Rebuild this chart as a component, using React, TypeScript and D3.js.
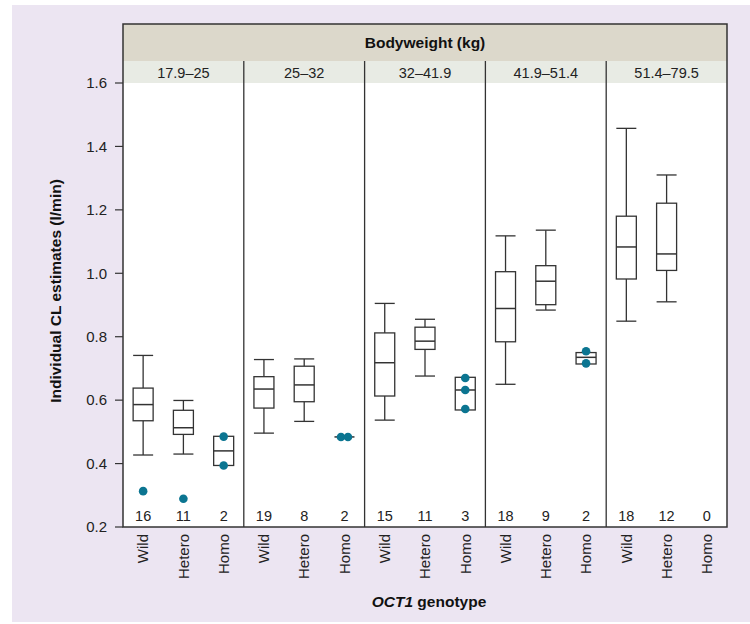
import React from 'react'
import * as d3 from 'd3'

const weightBands = ['17.9–25', '25–32', '32–41.9', '41.9–51.4', '51.4–79.5']
const genotypes = ['Wild', 'Hetero', 'Homo']
const counts = [
  [16, 11, 2],
  [19, 8, 2],
  [15, 11, 3],
  [18, 9, 2],
  [18, 12, 0]
]
// box stats per band, per genotype (null = no data)
const whiskerLow = [
  [0.427, 0.43, null],
  [0.496, 0.533, null],
  [0.537, 0.676, null],
  [0.65, 0.884, null],
  [0.849, 0.91, null]
]
const q1 = [
  [0.535, 0.492, 0.394],
  [0.575, 0.595, 0.484],
  [0.613, 0.76, 0.569],
  [0.784, 0.901, 0.714],
  [0.982, 1.009, null]
]
const medians = [
  [0.586, 0.513, 0.44],
  [0.635, 0.648, 0.484],
  [0.718, 0.786, 0.632],
  [0.889, 0.975, 0.735],
  [1.083, 1.061, null]
]
const q3 = [
  [0.638, 0.568, 0.486],
  [0.674, 0.707, 0.484],
  [0.812, 0.83, 0.672],
  [1.005, 1.024, 0.75],
  [1.18, 1.221, null]
]
const whiskerHigh = [
  [0.741, 0.599, null],
  [0.728, 0.73, null],
  [0.905, 0.855, null],
  [1.118, 1.136, null],
  [1.457, 1.31, null]
]
// individual points (homozygous values and outliers)
const points = [
  [[0.313], [0.289], [0.485, 0.394]],
  [[], [], [0.484, 0.484]],
  [[], [], [0.67, 0.632, 0.572]],
  [[], [], [0.754, 0.716]],
  [[], [], []]
]
const yTicks = [0.2, 0.4, 0.6, 0.8, 1.0, 1.2, 1.4, 1.6]

function App() {
  const left = 123
  const right = 727
  const frameTop = 24
  const stripTop = 61
  const plotTop = 83
  const bottom = 527
  const font = '"Liberation Sans", Arial, sans-serif'
  const dotColor = '#0b7591'
  const lineColor = '#333'

  const y = d3.scaleLinear().domain([0.2, 1.6]).range([bottom, plotTop])
  const panelScale = d3.scaleBand().domain(weightBands).range([left, right])
  const pw = panelScale.bandwidth()
  const x = d3.scaleBand().domain(genotypes).range([0, pw])
  const boxW = 20

  return (
    <svg width={750} height={624} style={{ position: 'absolute', left: 0, top: 0 }} fontFamily={font}>
      <rect x={12} y={5} width={738} height={617} fill="#ece5f2" />
      <rect x={left} y={frameTop} width={right - left} height={bottom - frameTop} fill="#fff" />
      <rect x={left} y={frameTop} width={right - left} height={stripTop - frameTop} fill="#dcd8cb" />
      <rect x={left} y={stripTop} width={right - left} height={plotTop - stripTop} fill="#e8ebe4" />
      <text x={(left + right) / 2} y={48} textAnchor="middle" fontSize={15.5} fontWeight="bold" fill="#111">
        Bodyweight (kg)
      </text>

      {yTicks.map(t => (
        <g key={t}>
          <line x1={115} x2={left} y1={y(t)} y2={y(t)} stroke={lineColor} strokeWidth={1.2} />
          <text x={107} y={y(t)} dy="0.35em" textAnchor="end" fontSize={15} fill="#222">
            {d3.format('.1f')(t)}
          </text>
        </g>
      ))}

      {weightBands.map((band, p) => {
        const px = panelScale(band) as number
        return (
          <g key={band}>
            <text x={px + pw / 2} y={78} textAnchor="middle" fontSize={14.5} fill="#222">
              {band}
            </text>
            {p > 0 && (
              <line x1={px} x2={px} y1={stripTop} y2={bottom} stroke={lineColor} strokeWidth={1.3} />
            )}
            {genotypes.map((g, i) => {
              const cx = px + (x(g) as number) + x.bandwidth() / 2
              const lo = whiskerLow[p][i]
              const hi = whiskerHigh[p][i]
              const a = q1[p][i]
              const b = q3[p][i]
              const m = medians[p][i]
              const pts = points[p][i]
              return (
                <g key={g}>
                  {hi !== null && b !== null && (
                    <>
                      <line x1={cx} x2={cx} y1={y(hi)} y2={y(b)} stroke={lineColor} strokeWidth={1.3} />
                      <line x1={cx - boxW / 2} x2={cx + boxW / 2} y1={y(hi)} y2={y(hi)} stroke={lineColor} strokeWidth={1.3} />
                    </>
                  )}
                  {lo !== null && a !== null && (
                    <>
                      <line x1={cx} x2={cx} y1={y(a)} y2={y(lo)} stroke={lineColor} strokeWidth={1.3} />
                      <line x1={cx - boxW / 2} x2={cx + boxW / 2} y1={y(lo)} y2={y(lo)} stroke={lineColor} strokeWidth={1.3} />
                    </>
                  )}
                  {a !== null && b !== null && (
                    <rect
                      x={cx - boxW / 2}
                      y={y(b)}
                      width={boxW}
                      height={y(a) - y(b)}
                      fill="#fff"
                      stroke={lineColor}
                      strokeWidth={1.3}
                    />
                  )}
                  {m !== null && (
                    <line x1={cx - boxW / 2} x2={cx + boxW / 2} y1={y(m)} y2={y(m)} stroke={lineColor} strokeWidth={1.5} />
                  )}
                  {pts.map((v, k) => {
                    const same = pts.filter(w => w === v).length
                    const idx = pts.slice(0, k).filter(w => w === v).length
                    const off = same > 1 ? (idx - (same - 1) / 2) * 7 : 0
                    return <circle key={k} cx={cx + off} cy={y(v)} r={4.3} fill={dotColor} />
                  })}
                  <text x={cx} y={521} textAnchor="middle" fontSize={14.5} fill="#222">
                    {counts[p][i]}
                  </text>
                  <text
                    x={cx}
                    y={534}
                    dy="0.35em"
                    textAnchor="end"
                    fontSize={15}
                    fill="#222"
                    transform={`rotate(-90, ${cx}, 534)`}
                  >
                    {g}
                  </text>
                </g>
              )
            })}
          </g>
        )
      })}

      <rect
        x={left}
        y={frameTop}
        width={right - left}
        height={bottom - frameTop}
        fill="none"
        stroke={lineColor}
        strokeWidth={1.5}
      />

      <text
        x={56}
        y={291}
        dy="0.35em"
        textAnchor="middle"
        fontSize={15.5}
        fontWeight="bold"
        fill="#111"
        transform="rotate(-90, 56, 291)"
      >
        Individual CL estimates (l/min)
      </text>
      <text x={429} y={607} textAnchor="middle" fontSize={15.5} fontWeight="bold" fill="#111">
        <tspan fontStyle="italic">OCT1</tspan> genotype
      </text>
    </svg>
  )
}

export default App
